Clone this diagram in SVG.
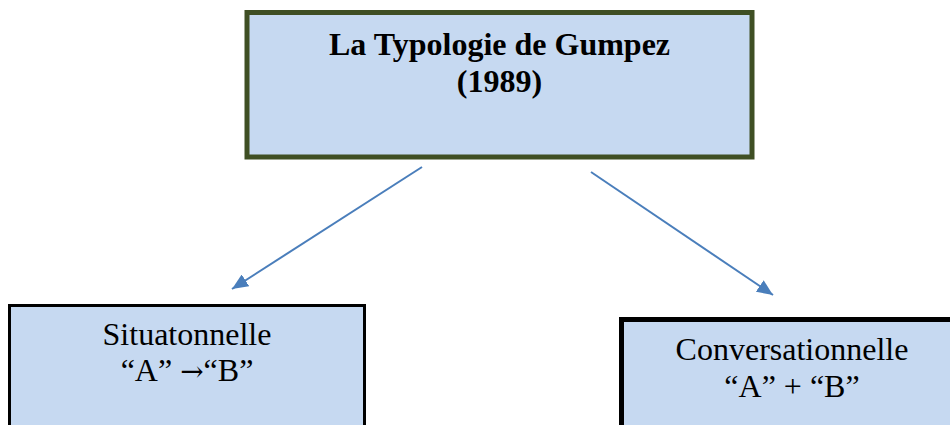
<svg xmlns="http://www.w3.org/2000/svg" width="950" height="425" viewBox="0 0 950 425">
<style>
.box{fill:#C6D9F1}
.t{font-family:"Liberation Serif","Times New Roman",serif;font-size:32px;fill:#000;text-anchor:middle}
.b{font-weight:bold}
.ar{font-family:"DejaVu Serif",serif;font-size:28px}
.c{stroke:#4A7EBB;stroke-width:2;fill:none;marker-end:url(#ah)}
</style>
<defs>
<marker id="ah" markerUnits="userSpaceOnUse" markerWidth="18" markerHeight="14" refX="16" refY="7" orient="auto">
<path d="M0,0 L16,7 L0,14 Z" fill="#4A7EBB"/>
</marker>
</defs>
<rect width="950" height="425" fill="#fff"/>
<g id="node-top">
<rect class="box" x="247" y="12.5" width="505" height="144.5" stroke="#3F4F24" stroke-width="5"/>
<text class="t b" x="499.5" y="55">La Typologie de Gumpez</text>
<text class="t b" x="499.5" y="92">(1989)</text>
</g>
<g id="node-left">
<rect class="box" x="9.5" y="305.5" width="355" height="130" stroke="#000" stroke-width="3"/>
<text class="t" x="187" y="345">Situatonnelle</text>
<text class="t" x="187" y="381">“A” <tspan class="ar">→</tspan>“B”</text>
</g>
<g id="node-right">
<rect class="box" x="621.5" y="319.5" width="345" height="120" stroke="#000" stroke-width="5"/>
<text class="t" x="792" y="360">Conversationnelle</text>
<text class="t" x="792" y="397">“A” + “B”</text>
</g>
<g id="connectors">
<line class="c" x1="422" y1="167" x2="232" y2="289"/>
<line class="c" x1="591" y1="172" x2="773" y2="295"/>
</g>
</svg>
